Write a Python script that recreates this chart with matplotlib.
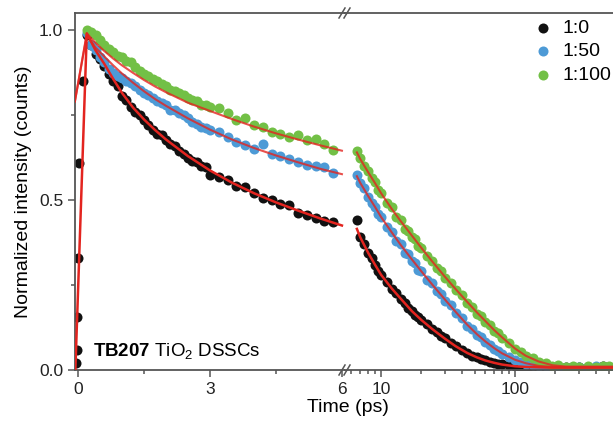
import matplotlib
matplotlib.use("Agg")
import matplotlib.pyplot as plt
from matplotlib.lines import Line2D
from matplotlib.ticker import FixedLocator, NullFormatter, FixedFormatter, LogLocator

plt.rcParams["font.family"] = ["Liberation Sans", "DejaVu Sans"]
plt.rcParams["mathtext.fontset"] = "custom"
plt.rcParams["mathtext.rm"] = "Liberation Sans"
plt.rcParams["mathtext.bf"] = "Liberation Sans:bold"
plt.rcParams["mathtext.it"] = "Liberation Sans:italic"

# ---- data: left panel (linear, 0-6 ps) ----
t_rise = [-0.045, -0.03, -0.02, 0.0, 0.02, 0.11]
black_rise = [0.02, 0.06, 0.157, 0.33, 0.61, 0.85]

t_left = [0.2, 0.3, 0.4, 0.5, 0.6, 0.7, 0.8, 0.9, 1.0, 1.1, 1.2, 1.3, 1.4, 1.5,
          1.6, 1.7, 1.8, 1.9, 2.0, 2.1, 2.2, 2.3, 2.4, 2.5, 2.6, 2.7, 2.8, 2.9,
          3.0, 3.2, 3.4, 3.6, 3.8, 4.0, 4.2, 4.4, 4.6, 4.8, 5.0, 5.2, 5.4, 5.6, 5.8]
black_left = [0.985, 0.955, 0.93, 0.915, 0.895, 0.87, 0.85, 0.835, 0.805, 0.795,
              0.775, 0.76, 0.75, 0.735, 0.72, 0.705, 0.695, 0.69, 0.675, 0.665,
              0.66, 0.645, 0.635, 0.625, 0.615, 0.612, 0.60, 0.597, 0.573, 0.568,
              0.56, 0.54, 0.537, 0.52, 0.507, 0.50, 0.487, 0.485, 0.462, 0.457,
              0.448, 0.437, 0.435]
blue_left = [0.99, 0.955, 0.94, 0.92, 0.905, 0.885, 0.875, 0.865, 0.86, 0.85,
             0.845, 0.835, 0.825, 0.815, 0.81, 0.80, 0.79, 0.785, 0.78, 0.765,
             0.765, 0.755, 0.75, 0.74, 0.73, 0.725, 0.715, 0.712, 0.705, 0.70,
             0.685, 0.67, 0.662, 0.65, 0.665, 0.635, 0.628, 0.62, 0.612, 0.603,
             0.60, 0.597, 0.58]
green_left = [1.0, 0.995, 0.985, 0.97, 0.955, 0.945, 0.935, 0.925, 0.92, 0.91,
              0.905, 0.89, 0.88, 0.87, 0.865, 0.855, 0.85, 0.84, 0.835, 0.825,
              0.82, 0.815, 0.81, 0.80, 0.795, 0.79, 0.78, 0.78, 0.775, 0.77,
              0.755, 0.735, 0.74, 0.72, 0.715, 0.70, 0.695, 0.685, 0.69, 0.675,
              0.68, 0.665, 0.647]

# fits, left panel
tf_black_l = [-0.06, 0.2, 0.4, 0.6, 0.8, 1.0, 1.25, 1.5, 1.75, 2.0, 2.5, 3.0,
              3.5, 4.0, 4.5, 5.0, 5.5, 6.0]
fit_black_l = [0.0, 0.99, 0.94, 0.90, 0.856, 0.815, 0.772, 0.737, 0.706, 0.678,
               0.629, 0.587, 0.551, 0.52, 0.493, 0.469, 0.446, 0.425]
tf_col_l = [-0.07, 0.2, 0.4, 0.6, 0.8, 1.0, 1.25, 1.5, 1.75, 2.0, 2.5, 3.0,
            3.5, 4.0, 4.5, 5.0, 5.5, 6.0]
fit_blue_l = [0.79, 0.985, 0.948, 0.922, 0.896, 0.872, 0.845, 0.82, 0.797,
              0.777, 0.74, 0.707, 0.678, 0.653, 0.631, 0.611, 0.592, 0.576]
fit_green_l = [0.79, 0.99, 0.962, 0.938, 0.916, 0.896, 0.874, 0.853, 0.834,
               0.817, 0.786, 0.762, 0.738, 0.716, 0.696, 0.678, 0.661, 0.645]

# ---- data: right panel (log, 6-540 ps) ----
t_right = [6.6, 7, 7.5, 8, 8.5, 9, 9.5, 10, 11, 12, 13, 14, 15, 16, 17, 18, 19,
           20, 22, 24, 26, 28, 30, 33, 36, 40, 44, 48, 52, 56, 60, 65, 70, 75,
           80, 90, 100, 110, 120, 135, 150, 170, 190, 210, 240, 270, 300, 350,
           400, 450, 500]
black_right = [0.44, 0.39, 0.37, 0.345, 0.33, 0.31, 0.29, 0.28, 0.26, 0.238,
               0.226, 0.208, 0.197, 0.183, 0.175, 0.162, 0.156, 0.146, 0.134,
               0.12, 0.111, 0.099, 0.093, 0.079, 0.071, 0.058, 0.051, 0.042,
               0.038, 0.031, 0.029, 0.024, 0.022, 0.019, 0.017, 0.014, 0.011,
               0.01, 0.008, 0.009, 0.007, 0.008, 0.006, 0.007, 0.009, 0.006,
               0.008, 0.01, 0.007, 0.011, 0.009]
blue_right = [0.575, 0.55, 0.535, 0.51, 0.49, 0.48, 0.46, 0.45, 0.42, 0.405,
              0.38, 0.37, 0.345, 0.34, 0.32, 0.315, 0.295, 0.29, 0.265, 0.255,
              0.232, 0.224, 0.203, 0.19, 0.168, 0.152, 0.13, 0.12, 0.103, 0.096,
              0.082, 0.075, 0.062, 0.057, 0.047, 0.039, 0.029, 0.025, 0.019,
              0.016, 0.011, 0.011, 0.008, 0.009, 0.007, 0.01, 0.008, 0.009,
              0.012, 0.008, 0.01]
green_right = [0.645, 0.625, 0.60, 0.585, 0.565, 0.552, 0.53, 0.522, 0.49,
               0.478, 0.45, 0.44, 0.415, 0.41, 0.39, 0.385, 0.365, 0.36, 0.335,
               0.322, 0.30, 0.29, 0.27, 0.257, 0.235, 0.22, 0.197, 0.186, 0.166,
               0.158, 0.142, 0.132, 0.115, 0.108, 0.094, 0.08, 0.061, 0.053,
               0.04, 0.034, 0.024, 0.02, 0.013, 0.015, 0.01, 0.013, 0.01, 0.012,
               0.01, 0.013, 0.011]

tf_r = [6.6, 7, 8, 9, 10, 12, 14, 17, 20, 24, 30, 36, 44, 52, 60, 70, 80, 100,
        120, 150, 190, 240, 300, 400, 540]
fit_black_r = [0.415, 0.39, 0.345, 0.31, 0.28, 0.24, 0.21, 0.173, 0.147, 0.121,
               0.092, 0.07, 0.05, 0.037, 0.028, 0.021, 0.016, 0.011, 0.009,
               0.008, 0.007, 0.007, 0.007, 0.007, 0.007]
fit_blue_r = [0.57, 0.55, 0.512, 0.48, 0.45, 0.405, 0.368, 0.325, 0.29, 0.252,
              0.207, 0.171, 0.133, 0.105, 0.084, 0.064, 0.049, 0.03, 0.02,
              0.012, 0.009, 0.008, 0.008, 0.008, 0.008]
fit_green_r = [0.64, 0.62, 0.582, 0.55, 0.52, 0.474, 0.438, 0.395, 0.359, 0.32,
               0.274, 0.238, 0.2, 0.169, 0.144, 0.117, 0.096, 0.063, 0.042,
               0.025, 0.014, 0.01, 0.01, 0.01, 0.01]

labels = ["1:0", "1:50", "1:100"]
C_BLACK, C_BLUE, C_GREEN, C_FIT = "#111111", "#4d9ad6", "#72c046", "#e3241f"
SPINE = "#555555"
MS = 52

W, H = 613, 421
fig = plt.figure(figsize=(W / 100, H / 100), dpi=100)
axL = fig.add_axes([75 / W, 51 / H, 270 / W, 357 / H])
axR = fig.add_axes([345 / W, 51 / H, 268 / W, 357 / H], sharey=axL)

# left panel
axL.scatter(t_rise, black_rise, s=MS, color=C_BLACK, lw=0, zorder=2)
axL.scatter(t_left, black_left, s=MS, color=C_BLACK, lw=0, zorder=2)
axL.scatter(t_left, blue_left, s=MS, color=C_BLUE, lw=0, zorder=2)
axL.scatter(t_left, green_left, s=MS, color=C_GREEN, lw=0, zorder=2)
axL.plot(tf_col_l, fit_green_l, color=C_FIT, lw=1.5, alpha=0.8, zorder=3)
axL.plot(tf_col_l, fit_blue_l, color=C_FIT, lw=1.5, alpha=0.8, zorder=3)
axL.plot(tf_black_l, fit_black_l, color=C_FIT, lw=1.8, zorder=3)

# right panel
axR.scatter(t_right, black_right, s=MS, color=C_BLACK, lw=0, zorder=2, label=labels[0])
axR.scatter(t_right, blue_right, s=MS, color=C_BLUE, lw=0, zorder=2, label=labels[1])
axR.scatter(t_right, green_right, s=MS, color=C_GREEN, lw=0, zorder=2, label=labels[2])
axR.plot(tf_r, fit_green_r, color=C_FIT, lw=1.5, alpha=0.8, zorder=3)
axR.plot(tf_r, fit_blue_r, color=C_FIT, lw=1.5, alpha=0.8, zorder=3)
axR.plot(tf_r, fit_black_r, color=C_FIT, lw=1.8, zorder=3)

axL.set_xlim(-0.068, 6.07)
axL.set_ylim(0, 1.05)
axR.set_xscale("log")
axR.set_xlim(5.38, 538)

for ax in (axL, axR):
    for sp in ax.spines.values():
        sp.set_color(SPINE)
        sp.set_linewidth(1.3)
    ax.tick_params(which="both", direction="out", color=SPINE, width=1.1,
                   labelsize=12.5, labelcolor="#222222")
    ax.tick_params(which="major", length=5)
    ax.tick_params(which="minor", length=3)
axL.spines["right"].set_visible(False)
axR.spines["left"].set_visible(False)
axR.spines["right"].set_visible(False)

axL.xaxis.set_major_locator(FixedLocator([0, 3, 6]))
axL.xaxis.set_minor_locator(FixedLocator([1.5, 4.5]))
axL.yaxis.set_major_locator(FixedLocator([0, 0.5, 1.0]))
axL.yaxis.set_major_formatter(FixedFormatter(["0.0", "0.5", "1.0"]))
axL.yaxis.set_minor_locator(FixedLocator([0.25, 0.75]))
axR.xaxis.set_major_locator(FixedLocator([10, 100]))
axR.xaxis.set_major_formatter(FixedFormatter(["10", "100"]))
axR.xaxis.set_minor_locator(LogLocator(base=10, subs=range(2, 10)))
axR.xaxis.set_minor_formatter(NullFormatter())
axR.tick_params(axis="y", which="both", left=False, labelleft=False)

# break marks on top and bottom spines
for yb in (13, 370):
    for dx in (-4, 1):
        x0, y0 = (343 + dx) / W, 1 - (yb + 5) / H
        x1, y1 = (349 + dx) / W, 1 - (yb - 5) / H
        fig.add_artist(Line2D([x0, x1], [y0, y1], color=SPINE, lw=1.1))

fig.text(348 / W, 1 - 408 / H, "Time (ps)", ha="center", va="center", fontsize=14)
fig.text(24 / W, 1 - 192 / H, "Normalized intensity (counts)", rotation=90,
         ha="center", va="center", fontsize=14)
fig.text(93 / W, 1 - 351 / H, r"$\mathbf{TB207}$ TiO$_2$ DSSCs", ha="left",
         va="center", fontsize=13.5)

axR.legend(loc="upper left", bbox_to_anchor=(535 / W, 1 - 19 / H),
           bbox_transform=fig.transFigure, frameon=False, fontsize=14,
           handlelength=0.8, handletextpad=0.6, labelspacing=0.32,
           borderaxespad=0, borderpad=0, scatterpoints=1)

fig.savefig("out.png", dpi=100)
